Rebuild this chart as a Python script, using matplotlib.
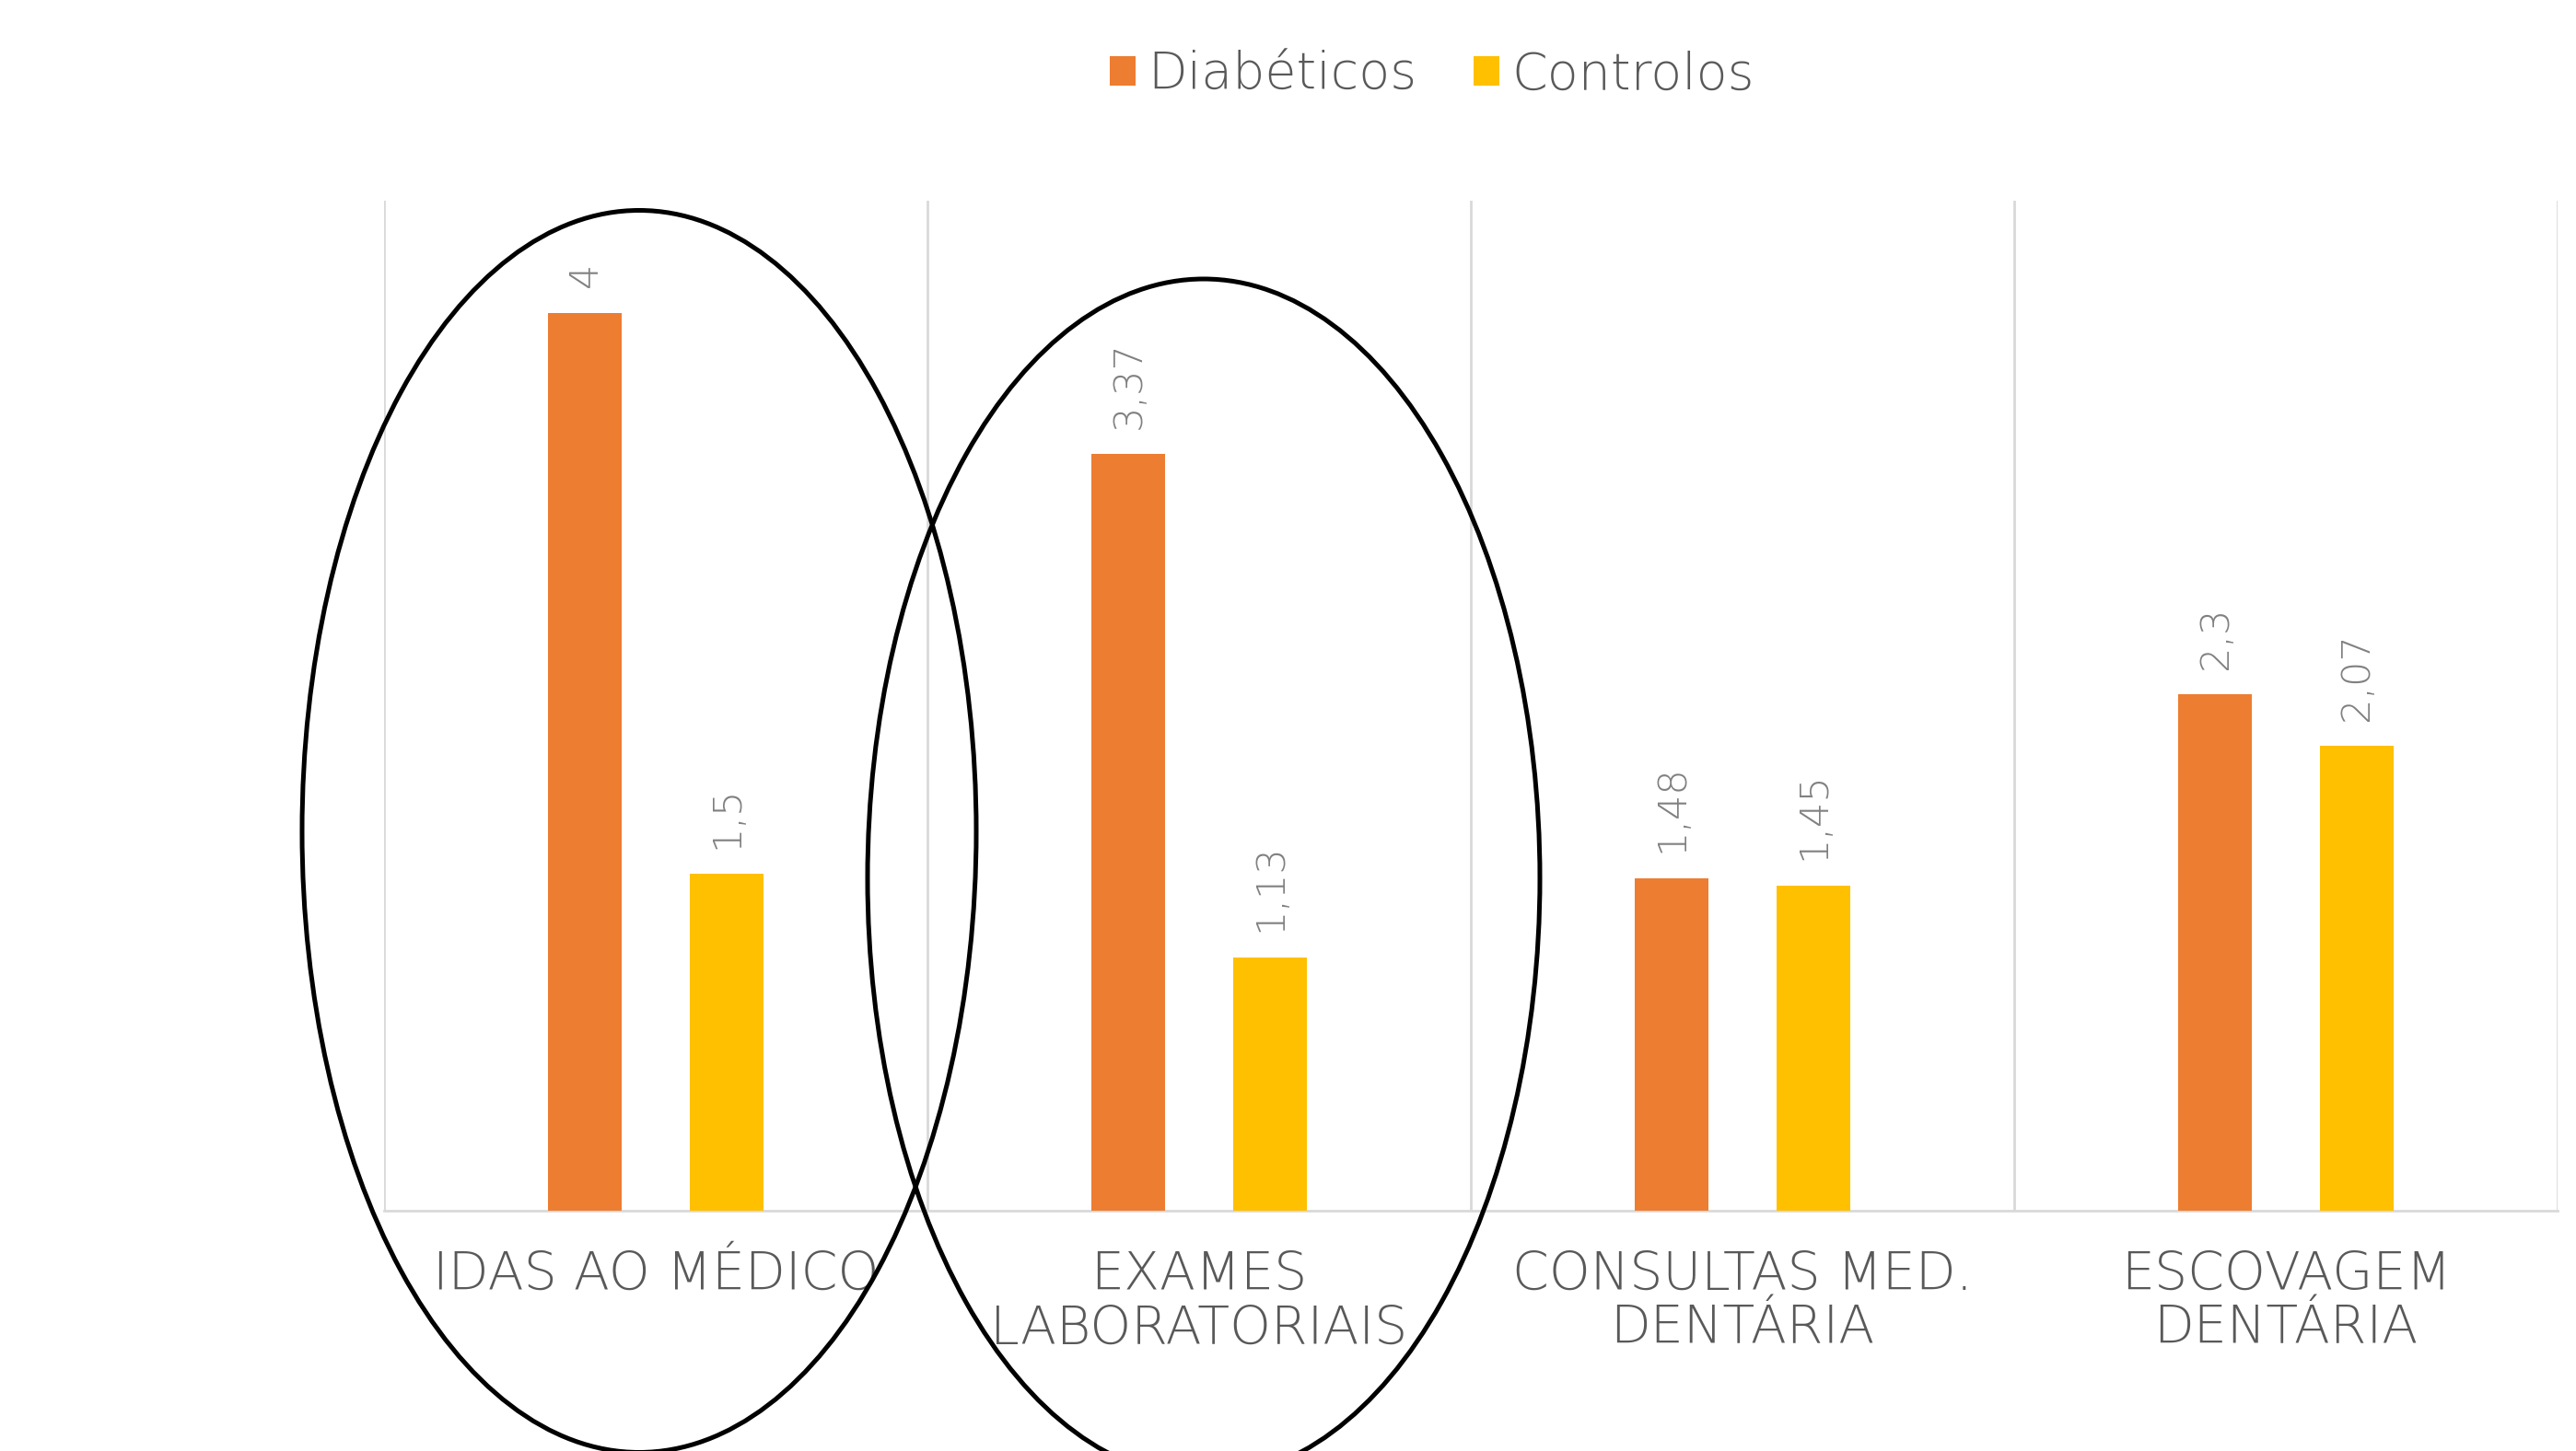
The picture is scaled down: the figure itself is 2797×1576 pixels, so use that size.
import matplotlib.pyplot as plt
from matplotlib.patches import Ellipse
import numpy as np

categories = ["IDAS AO MÉDICO", "EXAMES\nLABORATORIAIS", "CONSULTAS MED.\nDENTÁRIA", "ESCOVAGEM\nDENTÁRIA"]
diabeticos = [4, 3.37, 1.48, 2.3]
controlos = [1.5, 1.13, 1.45, 2.07]
series_names = ["Diabéticos", "Controlos"]

orange = "#ED7D31"
yellow = "#FFC000"
text_grey = "#595959"
label_grey = "#808080"

plt.rcParams['font.family'] = ['DejaVu Sans']

W, H = 2797, 1576
fig = plt.figure(figsize=(W / 100, H / 100), dpi=100)
ax = fig.add_axes([417 / W, 1 - 1315 / H, (2777 - 417) / W, (1315 - 218) / H])

x = np.arange(len(categories))
bw = 0.136
off = 0.13

b1 = ax.bar(x - off, diabeticos, bw, color=orange, label=series_names[0], zorder=3)
b2 = ax.bar(x + off, controlos, bw, color=yellow, label=series_names[1], zorder=3)

def fmt(v):
    return f"{v:g}".replace(".", ",")

for bars, vals in [(b1, diabeticos), (b2, controlos)]:
    for rect, v in zip(bars, vals):
        ax.annotate(fmt(v), (rect.get_x() + rect.get_width() / 2, v),
                    xytext=(0, 20), textcoords="offset points",
                    rotation=90, ha="center", va="bottom",
                    fontsize=31, color=label_grey, fontweight="light")

ax.set_xlim(-0.5, 3.5)
ax.set_ylim(0, 4.5)

# category separators
for xv in np.arange(-0.5, 4, 1):
    ax.axvline(xv, color="#D9D9D9", lw=2, zorder=1)

for s in ["top", "right", "left"]:
    ax.spines[s].set_visible(False)
ax.spines["bottom"].set_color("#D9D9D9")
ax.spines["bottom"].set_linewidth(2)

ax.set_yticks([])
ax.set_xticks(x)
ax.set_xticklabels(categories, fontsize=41, color=text_grey, fontweight="light",
                   linespacing=1.08)
ax.tick_params(axis="x", length=0, pad=31)

leg = fig.legend(loc="center", bbox_to_anchor=(1555 / W, 1 - 82 / H), ncol=2,
                 frameon=False, prop={"size": 40, "weight": "light"},
                 handlelength=0.5, handleheight=0.5,
                 handletextpad=0.25, columnspacing=1.1)
for t in leg.get_texts():
    t.set_color(text_grey)

# hand-drawn ellipses around the first two categories
for cx, cy, ew, eh in [(694, 903, 732, 1349), (1307, 954, 730, 1302)]:
    e = Ellipse((cx / W, 1 - cy / H), ew / W, eh / H, transform=fig.transFigure,
                fill=False, edgecolor="black", lw=3.6, zorder=10)
    fig.add_artist(e)

fig.savefig("out.png", dpi=100)
